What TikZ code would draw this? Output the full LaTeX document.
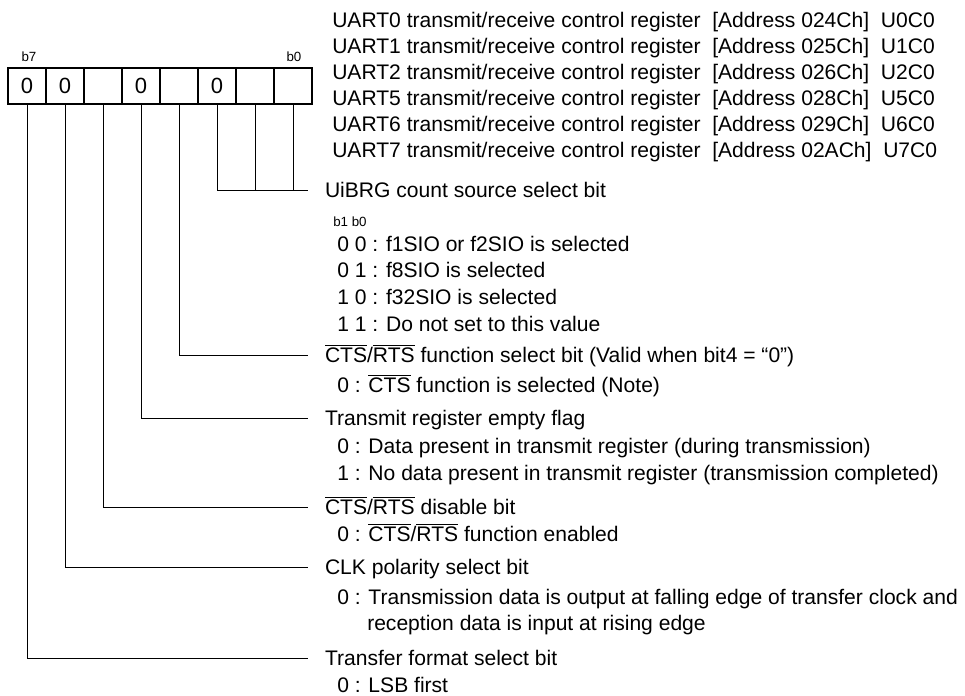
\documentclass[tikz,border=0pt]{standalone}
\usepackage{fontspec}
\setmainfont{Liberation Sans}
\newcommand{\ovl}[1]{$\overline{\mbox{#1}}$}

\begin{document}
\begin{tikzpicture}[x=0.75pt,y=0.75pt,font=\fontsize{15.8}{18}\selectfont]
\tikzstyle{every node}+=[inner sep=0pt]
\tikzstyle{regcell}=[draw,line width=1.3pt,minimum width=28.5pt,minimum height=27pt,font=\fontsize{16.5}{18}\selectfont]
\tikzstyle{bitno}=[font=\fontsize{10}{12}\selectfont]
\tikzstyle{txtline}=[anchor=west,text height=11.5pt,text depth=0.5pt]
\tikzstyle{bitname}=[txtline,outer xsep=12.75pt]
\tikzstyle{leader}=[line width=0.6pt]
\useasboundingbox (0,0) rectangle (965,-696);

\node[regcell] (b7) at (27,-86) {0};
\node[regcell] (b6) at (65,-86) {0};
\node[regcell] (b5) at (103,-86) {};
\node[regcell] (b4) at (141,-86) {0};
\node[regcell] (b3) at (179,-86) {};
\node[regcell] (b2) at (217,-86) {0};
\node[regcell] (b1) at (255,-86) {};
\node[regcell] (b0) at (293,-86) {};
\node[bitno] (lb7) at (29,-57) {b7};
\node[bitno] (lb0) at (294,-57) {b0};

\node[txtline] (h0) at (332,-20) {UART0 transmit/receive control register~ [Address 024Ch]~ U0C0};
\node[txtline] (h1) at (332,-46) {UART1 transmit/receive control register~ [Address 025Ch]~ U1C0};
\node[txtline] (h2) at (332,-72) {UART2 transmit/receive control register~ [Address 026Ch]~ U2C0};
\node[txtline] (h5) at (332,-98) {UART5 transmit/receive control register~ [Address 028Ch]~ U5C0};
\node[txtline] (h6) at (332,-124) {UART6 transmit/receive control register~ [Address 029Ch]~ U6C0};
\node[txtline] (h7) at (332,-150) {UART7 transmit/receive control register~ [Address 02ACh]~ U7C0};

\node[bitname] (t0) at (308,-190) {UiBRG count source select bit};
\node[bitno,anchor=west] (t0h) at (333,-222) {b1 b0};
\node[txtline] (t0a) at (337,-244) {0 0 : f1SIO or f2SIO is selected};
\node[txtline] (t0b) at (337,-270) {0 1 : f8SIO is selected};
\node[txtline] (t0c) at (337,-297) {1 0 : f32SIO is selected};
\node[txtline] (t0d) at (337,-324) {1 1 : Do not set to this value};

\node[bitname] (t3) at (308,-355) {\ovl{CTS}/\ovl{RTS} function select bit (Valid when bit4 = “0”)};
\node[txtline] (t3a) at (337,-385) {0 : \ovl{CTS} function is selected (Note)};

\node[bitname] (t4) at (308,-418) {Transmit register empty flag};
\node[txtline] (t4a) at (337,-446) {0 : Data present in transmit register (during transmission)};
\node[txtline] (t4b) at (337,-473) {1 : No data present in transmit register (transmission completed)};

\node[bitname] (t5) at (308,-507) {\ovl{CTS}/\ovl{RTS} disable bit};
\node[txtline] (t5a) at (337,-534) {0 : \ovl{CTS}/\ovl{RTS} function enabled};

\node[bitname] (t6) at (308,-567) {CLK polarity select bit};
\node[txtline] (t6a) at (337,-597) {0 : Transmission data is output at falling edge of transfer clock and};
\node[txtline] (t6b) at (367,-623) {reception data is input at rising edge};

\node[bitname] (t7) at (308,-658) {Transfer format select bit};
\node[txtline] (t7a) at (337,-685) {0 : LSB first};

\draw[leader] (b2.south) |- (t0.west);
\draw[leader] (b1.south) -- (b1.south |- t0.west);
\draw[leader] (b0.south) -- (b0.south |- t0.west);
\draw[leader] (b3.south) |- (t3.west);
\draw[leader] (b4.south) |- (t4.west);
\draw[leader] (b5.south) |- (t5.west);
\draw[leader] (b6.south) |- (t6.west);
\draw[leader] (b7.south) |- (t7.west);
\end{tikzpicture}
\end{document}
